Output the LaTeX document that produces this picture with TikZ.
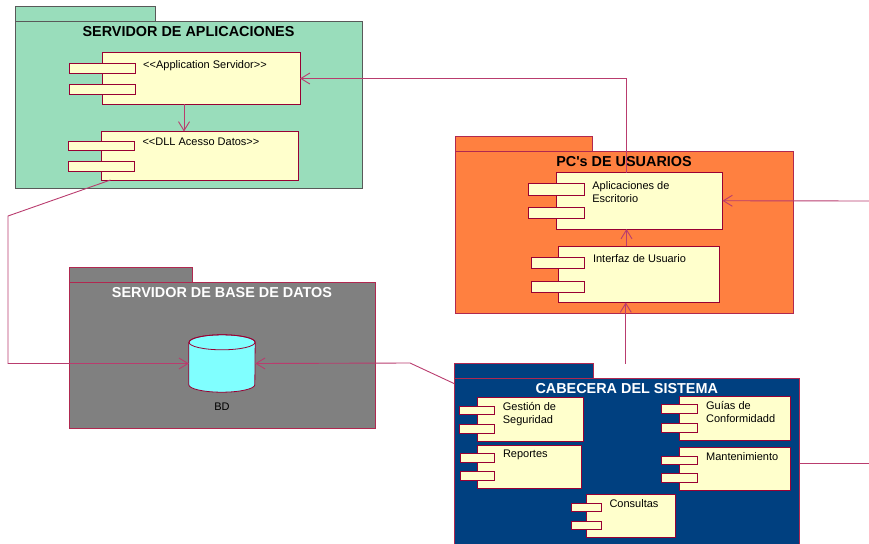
\documentclass[tikz,border=0pt]{standalone}
\usepackage{fontspec}
\setmainfont{Liberation Sans}[Ligatures=TeXOff]
\usetikzlibrary{calc,arrows.meta,positioning}

\definecolor{verdepkg}{RGB}{153,221,187}
\definecolor{naranjapkg}{RGB}{255,128,64}
\definecolor{grispkg}{RGB}{128,128,128}
\definecolor{azulpkg}{RGB}{0,64,128}
\definecolor{bordepkg}{RGB}{176,40,80}
\definecolor{amarillocomp}{RGB}{255,255,204}
\definecolor{bordecomp}{RGB}{153,0,51}
\definecolor{conector}{RGB}{185,60,110}
\definecolor{cian}{RGB}{128,255,255}

\tikzset{
  pkg/.style={line width=1pt},
  pkgbody/.style={pkg, anchor=north west, inner sep=0pt, outer sep=0pt},
  titulo/.style={anchor=base, font=\fontsize{14.4}{17}\selectfont\bfseries},
  comp/.style={draw=bordecomp, fill=amarillocomp, line width=1pt, inner sep=0pt, outer sep=0pt},
  port/.style={draw=bordecomp, fill=amarillocomp, line width=1pt},
  complbl/.style={anchor=north west, align=left, inner sep=0pt, font=\fontsize{11}{13}\selectfont},
  conn/.style={draw=conector, line width=0.9pt},
  flecha/.style={conn, -{Straight Barb[length=9pt,width=11pt]}},
}

% componente: nombre, x, y, ancho, alto, texto
\newcommand{\componente}[6]{%
  \node[comp, minimum width=#4pt, minimum height=#5pt, anchor=north west] (#1) at (#2,#3) {};
  \pgfmathsetmacro{\pxa}{#2-#4/6}\pgfmathsetmacro{\pxb}{#2+#4/6}
  \pgfmathsetmacro{\pya}{#3+0.2*#5}\pgfmathsetmacro{\pyb}{#3+0.4*#5}
  \pgfmathsetmacro{\pyc}{#3+0.62*#5}\pgfmathsetmacro{\pyd}{#3+0.82*#5}
  \draw[port] (\pxa,\pya) rectangle (\pxb,\pyb);
  \draw[port] (\pxa,\pyc) rectangle (\pxb,\pyd);
  \node[complbl] (#1-lbl) at (\pxb+8,#3+0.28*#5-7) {#6};
}

\begin{document}
\begin{tikzpicture}[x=1pt, y=-1pt]
    \useasboundingbox (0,0) rectangle (869,543);
    \clip (0,0) rectangle (869,543);

    % Servidor de aplicaciones
    \draw[pkg, fill=verdepkg, draw=black!65] (15,7) rectangle (155,22);
    \node[pkgbody, fill=verdepkg, draw=black!65, minimum width=347pt, minimum height=166pt] (srvapp) at (15,22) {};
    \node[titulo] (srvapp-t) at ($(srvapp.north)+(0,14.5)$) {SERVIDOR DE APLICACIONES};

    % PC's de usuarios
    \draw[pkg, fill=naranjapkg, draw=bordepkg] (455,136) rectangle (592,151);
    \node[pkgbody, fill=naranjapkg, draw=bordepkg, minimum width=338pt, minimum height=162pt] (pcs) at (455,151) {};
    \node[titulo] (pcs-t) at ($(pcs.north)+(0,15)$) {PC's DE USUARIOS};

    % Servidor de base de datos
    \draw[pkg, fill=grispkg, draw=bordepkg] (69,267) rectangle (192,282);
    \node[pkgbody, fill=grispkg, draw=bordepkg, minimum width=306pt, minimum height=146pt] (srvbd) at (69,282) {};
    \node[titulo, text=white] (srvbd-t) at ($(srvbd.north)+(0,15)$) {SERVIDOR DE BASE DE DATOS};

    % Cabecera del sistema
    \draw[pkg, fill=azulpkg, draw=bordepkg] (454,363.5) rectangle (593,378.5);
    \node[pkgbody, fill=azulpkg, draw=bordepkg, minimum width=345.5pt, minimum height=170pt] (cab) at (454,378.5) {};
    \node[titulo, text=white] (cab-t) at ($(cab.north)+(0,14.5)$) {CABECERA DEL SISTEMA};

    % Componentes
    \componente{appsrv}{102}{53}{198}{51}{<{}<Application Servidor>{}>}
    \componente{dll}{101.5}{131.5}{197}{48.5}{<{}<DLL Acesso Datos>{}>}
    \componente{escr}{556.5}{172.5}{166}{56.5}{Aplicaciones de\\Escritorio}
    \componente{iface}{558}{246}{161}{56.5}{Interfaz de Usuario}
    \componente{seg}{477}{397.5}{106}{43.5}{Gestión de\\Seguridad}
    \componente{rep}{477.5}{445}{104}{43.5}{Reportes}
    \componente{guias}{679.5}{396}{110.5}{44}{Guías de\\Conformidadd}
    \componente{mant}{679.5}{447.5}{110.5}{42.5}{Mantenimiento}
    \componente{cons}{586.5}{494.5}{89}{43}{Consultas}

    % Base de datos
    \node[minimum width=66pt, minimum height=57pt, inner sep=0pt] (bd) at (222,363.5) {};
    \draw[fill=cian, draw=bordecomp, line width=0.8pt] ($(bd.north west)+(0,7.5)$) -- ($(bd.south west)+(0,-7.5)$)
        arc[start angle=180, end angle=360, x radius=33pt, y radius=7.5pt] -- ($(bd.north east)+(0,7.5)$)
        arc[start angle=0, end angle=180, x radius=33pt, y radius=7.5pt] -- cycle;
    \draw[draw=bordecomp, line width=0.8pt] ($(bd.north)+(0,7.5)$) ellipse [x radius=33pt, y radius=7.5pt];
    \node[font=\fontsize{11}{13}\selectfont] (bd-lbl) at ($(bd.south)+(0,15)$) {BD};

    % Conectores
    \coordinate (a1) at ([xshift=-17pt]appsrv.south);
    \draw[flecha] (a1) -- (a1 |- dll.north);
    \coordinate (e1) at ([xshift=-13pt]escr.north);
    \draw[flecha] (e1) |- (appsrv.east);
    \draw[flecha] (e1 |- iface.north) -- (e1 |- escr.south);
    \coordinate (c1) at ([xshift=-1pt, yshift=15pt]cab.north);
    \draw[flecha] (c1) -- (c1 |- iface.south);
    \coordinate (der1) at (869,201);
    \draw[flecha] (der1) -- (escr.east);
    \coordinate (der2) at (869,462);
    \draw[conn] (cab.east) -- (cab.east -| der2);
    \coordinate (q1) at (8,216);
    \draw[flecha] ([xshift=9pt]dll.south west) -- (q1) |- (bd.west);
    \coordinate (q2) at (410,363);
    \draw[flecha] ([yshift=-5pt]cab.north west) -- (q2) -- (bd.east);
\end{tikzpicture}
\end{document}
